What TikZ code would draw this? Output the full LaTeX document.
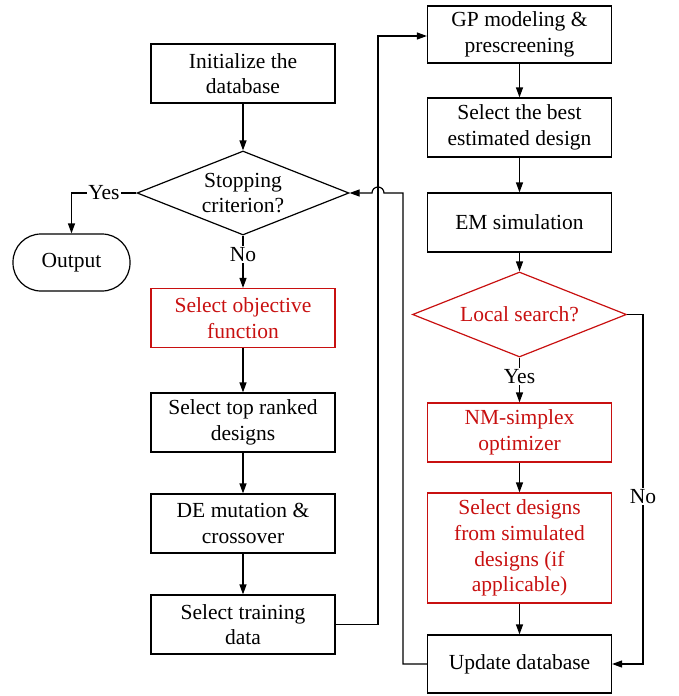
\documentclass[tikz,border=0pt]{standalone}
\usepackage{fontspec}
\setmainfont{Liberation Serif}
\usetikzlibrary{arrows.meta,shapes.geometric}
\definecolor{myred}{RGB}{200,16,16}
\newcommand{\myfs}{\fontsize{21.5}{25.7}\selectfont}
\tikzset{
  box/.style={draw, line width=1.2pt, minimum width=184pt, minimum height=59pt, align=center, inner sep=2pt, font=\myfs},
  rbox/.style={box, draw=myred, text=myred},
  dia/.style={draw, diamond, line width=1.2pt, aspect=2.5, inner sep=0pt, align=center, font=\myfs},
  term/.style={draw, line width=1.2pt, rounded corners=28pt, minimum width=117pt, minimum height=57pt, font=\myfs},
  arr/.style={line width=1.2pt, -{Triangle[length=10pt,width=7pt]}},
  lbl/.style={fill=white, inner sep=1.5pt, font=\myfs}
}
\begin{document}
\begin{tikzpicture}[x=1pt,y=-1pt]
\useasboundingbox (0,0) rectangle (678,696);
% left column
\node[box] (init) at (243,73.5) {Initialize the\\database};
\node[dia, minimum width=212pt, minimum height=84pt] (stop) at (243,193) {Stopping\\criterion?};
\node[term] (out) at (71.5,262.5) {Output};
\node[rbox] (obj) at (243,318) {Select objective\\function};
\node[box] (top) at (243,422.5) {Select top ranked\\designs};
\node[box] (de) at (243,523.5) {DE mutation \&\\crossover};
\node[box] (train) at (243,624.5) {Select training\\data};
% right column
\node[box, minimum height=57pt] (gp) at (519.5,34.5) {GP modeling \&\\prescreening};
\node[box] (best) at (519.5,127.5) {Select the best\\estimated design};
\node[box] (em) at (519.5,222.5) {EM simulation};
\node[dia, draw=myred, text=myred, minimum width=214pt, minimum height=85pt] (loc) at (519.5,314.5) {Local search?};
\node[rbox] (nm) at (519.5,432.5) {NM-simplex\\optimizer};
\node[rbox, minimum height=110pt] (sel) at (519.5,548) {Select designs\\from simulated\\designs (if\\applicable)};
\node[box, minimum height=58pt] (upd) at (519.5,664) {Update database};
% connectors
\draw[arr] (init) -- (stop);
\draw[arr] (stop.west) -- node[lbl]{Yes} (out.north |- stop.west) -- (out.north);
\draw[arr] (stop.south) -- node[lbl, pos=0.36]{No} (obj.north);
\draw[arr] (obj) -- (top);
\draw[arr] (top) -- (de);
\draw[arr] (de) -- (train);
\coordinate (c1) at (378,624.5);
\coordinate (c2) at (378,36);
\draw[arr] (train.east) -- (c1) -- (c2) -- (c2 -| gp.west);
\draw[arr] (gp) -- (best);
\draw[arr] (best) -- (em);
\draw[arr] (em) -- (loc);
\draw[arr] (loc.south) -- node[lbl, pos=0.42]{Yes} (nm.north);
\draw[arr] (nm) -- (sel);
\draw[arr] (sel) -- (upd);
\coordinate (r1) at (643,314.5);
\coordinate (r2) at (643,664);
\draw[arr] (loc.east) -- (r1) -- node[lbl, pos=0.52]{No} (r2) -- (upd.east);
\coordinate (l1) at (403,664);
\coordinate (l2) at (403,193);
\coordinate (h1) at (384,193);
\draw[arr] (upd.west) -- (l1) -- (l2) -- (h1) arc (0:180:6pt) -- (stop.east);
\end{tikzpicture}
\end{document}
